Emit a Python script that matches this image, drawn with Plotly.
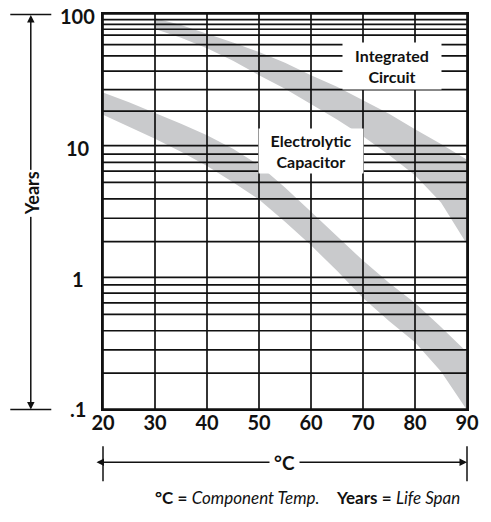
import math
import plotly.graph_objects as go

# ---------------- data ----------------
temp_ticks = [20, 30, 40, 50, 60, 70, 80, 90]
year_labels = [("100", 100), ("10", 10), ("1", 1), (".1", 0.1)]
grid_years = [100, 90.7, 83.3, 76.6, 69.2, 58.5, 48.0, 36.8, 26.6, 18.3,
              10, 8.64, 7.46, 6.41, 5.27, 3.95, 2.81, 1.87,
              1, 0.876, 0.758, 0.639, 0.524, 0.393, 0.281, 0.187, 0.1]

ic_temps = [30, 35, 40, 45, 50, 55, 60, 65, 70, 75, 80, 85, 90]
ic_upper = [92.7, 82.4, 70.8, 60.8, 51.4, 42.7, 34.3, 28.0, 22.1, 17.5, 13.3, 10.3, 7.8]
ic_lower = [77.0, 66.1, 55.0, 44.1, 34.3, 27.1, 20.7, 15.8, 11.8, 8.5, 5.97, 3.7, 1.78]

cap_temps = [20, 25, 30, 35, 40, 45, 50, 55, 60, 65, 70, 75, 80, 85, 90]
cap_upper = [25.3, 21.4, 17.7, 14.7, 12.0, 9.48, 7.13, 4.82, 3.15, 2.05, 1.34, 0.908, 0.639, 0.419, 0.270]
cap_lower = [17.2, 14.0, 11.3, 8.99, 7.01, 5.27, 3.90, 2.64, 1.75, 1.12, 0.698, 0.466, 0.322, 0.193, 0.098]

# ---------------- styling ----------------
FONT = "Lato"
BAND = "#c9cacc"
INK = "#111111"
W, H = 491, 522
L, R, T, B = 103, 15, 12.5, 112.5
PW, PH = W - L - R, H - T - B


def px_x(p):
    return (p - L) / PW


def px_y(p):
    return (H - B - p) / PH


fig = go.Figure()

# bands
fig.add_trace(go.Scatter(
    x=cap_temps + cap_temps[::-1], y=cap_upper + cap_lower[::-1],
    fill="toself", fillcolor=BAND, mode="lines", line=dict(width=0),
    hoverinfo="skip", showlegend=False))
fig.add_trace(go.Scatter(
    x=ic_temps + ic_temps[::-1], y=ic_upper + ic_lower[::-1],
    fill="toself", fillcolor=BAND, mode="lines", line=dict(width=0),
    hoverinfo="skip", showlegend=False))

# horizontal grid
hx, hy = [], []
for v in grid_years:
    hx += [temp_ticks[0], temp_ticks[-1], None]
    hy += [v, v, None]
fig.add_trace(go.Scatter(x=hx, y=hy, mode="lines",
                         line=dict(color=INK, width=1.7),
                         hoverinfo="skip", showlegend=False))
# vertical grid
vx, vy = [], []
for t in temp_ticks:
    vx += [t, t, None]
    vy += [grid_years[-1], grid_years[0], None]
fig.add_trace(go.Scatter(x=vx, y=vy, mode="lines",
                         line=dict(color=INK, width=1.7),
                         hoverinfo="skip", showlegend=False))

annotations = []
# y tick labels
for txt, v in year_labels:
    annotations.append(dict(
        x=px_x(77), xref="paper", y=math.log10(v), yref="y",
        text=f"<b>{txt}</b>", showarrow=False, xanchor="center",
        yanchor="middle", yshift=-2 if v > 0.1 else 0,
        font=dict(family=FONT, size=20, color=INK)))

# series labels
annotations.append(dict(
    x=75.5, y=math.log10(40.5), xref="x", yref="y",
    text="<b>Integrated<br>Circuit</b>", showarrow=False,
    xanchor="center", yanchor="middle",
    bgcolor="white", borderpad=4, width=90, height=38,
    font=dict(family=FONT, size=16, color=INK)))
annotations.append(dict(
    x=60.0, y=math.log10(9.07), xref="x", yref="y",
    text="<b>Electrolytic<br>Capacitor</b>", showarrow=False,
    xanchor="center", yanchor="middle",
    bgcolor="white", borderpad=3, width=98, height=38,
    font=dict(family=FONT, size=16, color=INK)))

# Years vertical arrow
annotations.append(dict(
    x=px_x(29), y=px_y(410), xref="paper", yref="paper",
    ax=0, ay=-(410 - 14), axref="pixel", ayref="pixel",
    text="", showarrow=True, arrowhead=2, arrowside="end+start",
    arrowsize=1.0, arrowwidth=1.5, arrowcolor=INK, standoff=0, startstandoff=0))
annotations.append(dict(
    x=px_x(30), y=px_y(193), xref="paper", yref="paper",
    xanchor="center", yanchor="middle",
    text="<b>Years</b>", textangle=-90, showarrow=False, bgcolor="white",
    borderpad=1, font=dict(family=FONT, size=18, color=INK)))

# degree C horizontal arrow
annotations.append(dict(
    x=px_x(476), y=px_y(463), xref="paper", yref="paper",
    ax=-(476 - 104), ay=0, axref="pixel", ayref="pixel",
    text="", showarrow=True, arrowhead=2, arrowside="end+start",
    arrowsize=1.0, arrowwidth=1.5, arrowcolor=INK, standoff=0, startstandoff=0))
annotations.append(dict(
    x=px_x(289), y=px_y(463), xref="paper", yref="paper",
    xanchor="center", yanchor="middle",
    text="<b>°C</b>", showarrow=False, bgcolor="white", borderpad=4,
    font=dict(family=FONT, size=19, color=INK)))

# caption
nb = "\u00a0"
annotations.append(dict(
    x=px_x(313), y=px_y(498), xref="paper", yref="paper",
    text=f"<b>°C =</b> <i>Component{nb}Temp.</i>{nb}{nb}{nb}{nb}<b>Years =</b> <i>Life{nb}Span</i>",
    showarrow=False, xanchor="center", yanchor="middle",
    font=dict(family=FONT, size=17, color=INK)))

shapes = [
    # end bars of Years arrow
    dict(type="line", xref="paper", yref="paper", x0=px_x(8), x1=px_x(50),
         y0=px_y(13), y1=px_y(13), line=dict(color=INK, width=1.5)),
    dict(type="line", xref="paper", yref="paper", x0=px_x(8), x1=px_x(50),
         y0=px_y(410), y1=px_y(410), line=dict(color=INK, width=1.5)),
    # end bars of °C arrow
    dict(type="line", xref="paper", yref="paper", x0=px_x(103), x1=px_x(103),
         y0=px_y(447), y1=px_y(482), line=dict(color=INK, width=1.5)),
    dict(type="line", xref="paper", yref="paper", x0=px_x(476), x1=px_x(476),
         y0=px_y(447), y1=px_y(482), line=dict(color=INK, width=1.5)),
]

fig.update_layout(
    width=W, height=H,
    margin=dict(l=L, r=R, t=T, b=B, pad=0),
    paper_bgcolor="white", plot_bgcolor="white",
    showlegend=False,
    annotations=annotations, shapes=shapes,
    xaxis=dict(range=[temp_ticks[0], temp_ticks[-1]], tickvals=temp_ticks,
               ticktext=[f"<b>{t}</b>" for t in temp_ticks],
               tickfont=dict(family=FONT, size=20, color=INK),
               ticklabelstandoff=-5,
               showgrid=False, zeroline=False, ticks="", ticklen=0,
               showline=True, linecolor=INK, linewidth=2, mirror=True,
               fixedrange=True),
    yaxis=dict(type="log", range=[math.log10(grid_years[-1]), math.log10(grid_years[0])],
               showticklabels=False, showgrid=False, zeroline=False, ticks="",
               showline=True, linecolor=INK, linewidth=2, mirror=True,
               fixedrange=True),
)

fig.write_html("out.html", config={"displayModeBar": False})
